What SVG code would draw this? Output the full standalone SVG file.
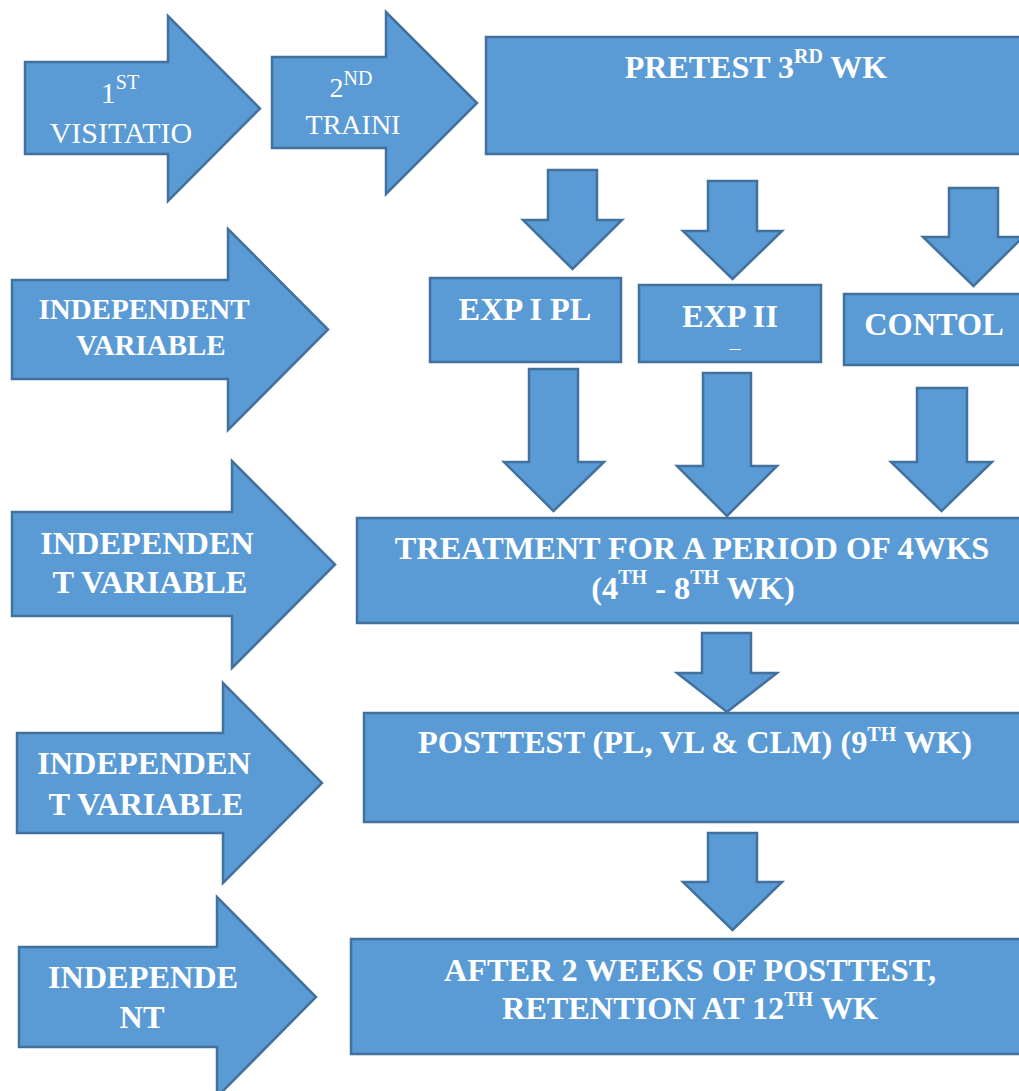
<svg xmlns="http://www.w3.org/2000/svg" width="1019" height="1091" viewBox="0 0 1019 1091" font-family="'Liberation Serif', 'Times New Roman', serif">
  <style>
    .shape { fill: #5B9BD5; stroke: #41719C; stroke-width: 2.5; stroke-linejoin: miter; }
    .lbl { fill: #FFFFFF; font-family: "Liberation Serif", "Times New Roman", serif; text-anchor: middle; }
    .reg { font-size: 28px; font-weight: normal; }
    .bold { font-size: 32.3px; font-weight: bold; }
    .sup { font-size: 20px; }
  </style>
  <rect width="1019" height="1091" fill="#FFFFFF"/>

  <!-- block arrows pointing down between stages -->
  <g id="connectors">
    <polygon class="shape" points="548,170 597,170 597,220 622,220 572.5,269 523,220 548,220"/>
    <polygon class="shape" points="708,181 757,181 757,231 782,231 732.5,279 683,231 708,231"/>
    <polygon class="shape" points="949,188 998,188 998,237 1023,237 973.5,286 923,237 949,237"/>
    <polygon class="shape" points="529,369 578,369 578,462 604,462 553.5,511 504,462 529,462"/>
    <polygon class="shape" points="703,373 751,373 751,466 777,466 727,516 677,466 703,466"/>
    <polygon class="shape" points="917,388 967,388 967,462 992,462 941.5,511 891,462 917,462"/>
    <polygon class="shape" points="702,633 751,633 751,673 777,673 727,712 677,673 702,673"/>
    <polygon class="shape" points="708,833 757,833 757,882 782,882 732.5,930 683,882 708,882"/>
  </g>

  <!-- top row -->
  <g id="visit">
    <polygon class="shape" points="25,62 168,62 168,16 260,108.5 168,201 168,154 25,154"/>
    <text class="lbl reg" x="120" y="103" style="font-size:30px">1<tspan class="sup" dy="-14">ST</tspan></text>
    <text class="lbl reg" x="121" y="143" style="font-size:30px">VISITATIO</text>
  </g>
  <g id="training">
    <polygon class="shape" points="272,57 386,57 386,12 477,103 386,194 386,148 272,148"/>
    <text class="lbl reg" x="351" y="97">2<tspan class="sup" dy="-12">ND</tspan></text>
    <text class="lbl reg" x="353" y="134">TRAINI</text>
  </g>
  <g id="pretest">
    <rect class="shape" x="486" y="37" width="545" height="117"/>
    <text class="lbl bold" x="756" y="78" style="font-size:32px">PRETEST 3<tspan class="sup" dy="-15">RD</tspan><tspan dy="15"> WK</tspan></text>
  </g>

  <!-- groups -->
  <g id="exp1">
    <rect class="shape" x="430" y="278" width="191" height="84"/>
    <text class="lbl bold" x="525" y="320">EXP I PL</text>
  </g>
  <g id="exp2">
    <rect class="shape" x="639" y="285" width="182" height="77"/>
    <text class="lbl bold" x="730" y="327">EXP II</text>
    <text class="lbl" x="735" y="355" style="font-size:22px">–</text>
  </g>
  <g id="control">
    <rect class="shape" x="844" y="294" width="187" height="71"/>
    <text class="lbl bold" x="934" y="335">CONTOL</text>
  </g>

  <!-- left-hand labels -->
  <g id="iv1">
    <polygon class="shape" points="12,280 228,280 228,229 328,329.5 228,430 228,379 12,379"/>
    <text class="lbl bold" x="144" y="319" style="font-size:29px">INDEPENDENT</text>
    <text class="lbl bold" x="151" y="355" style="font-size:29px">VARIABLE</text>
  </g>
  <g id="iv2">
    <polygon class="shape" points="12,512 232,512 232,461 335,564.5 232,668 232,616 12,616"/>
    <text class="lbl bold" x="147" y="554">INDEPENDEN</text>
    <text class="lbl bold" x="150" y="593">T VARIABLE</text>
  </g>
  <g id="iv3">
    <polygon class="shape" points="17,733 223,733 223,683 322,783 223,883 223,833 17,833"/>
    <text class="lbl bold" x="144" y="774">INDEPENDEN</text>
    <text class="lbl bold" x="146" y="815">T VARIABLE</text>
  </g>
  <g id="iv4">
    <polygon class="shape" points="19,947 217,947 217,897 316,997 217,1097 217,1047 19,1047"/>
    <text class="lbl bold" x="143" y="988">INDEPENDE</text>
    <text class="lbl bold" x="142" y="1028">NT</text>
  </g>

  <!-- later stages -->
  <g id="treatment">
    <rect class="shape" x="357" y="518" width="674" height="105"/>
    <text class="lbl bold" x="692" y="559">TREATMENT FOR A PERIOD OF 4WKS</text>
    <text class="lbl bold" x="693" y="599">(4<tspan class="sup" dy="-15">TH</tspan><tspan dy="15"> - 8</tspan><tspan class="sup" dy="-15">TH</tspan><tspan dy="15"> WK)</tspan></text>
  </g>
  <g id="posttest">
    <rect class="shape" x="364" y="713" width="667" height="109"/>
    <text class="lbl bold" x="695" y="753">POSTTEST (PL, VL &amp; CLM) (9<tspan class="sup" dy="-12">TH</tspan><tspan dy="12"> WK)</tspan></text>
  </g>
  <g id="retention">
    <rect class="shape" x="351" y="939" width="680" height="115"/>
    <text class="lbl bold" x="690" y="981">AFTER 2 WEEKS OF POSTTEST,</text>
    <text class="lbl bold" x="690" y="1019">RETENTION AT 12<tspan class="sup" dy="-13">TH</tspan><tspan dy="13"> WK</tspan></text>
  </g>
</svg>
